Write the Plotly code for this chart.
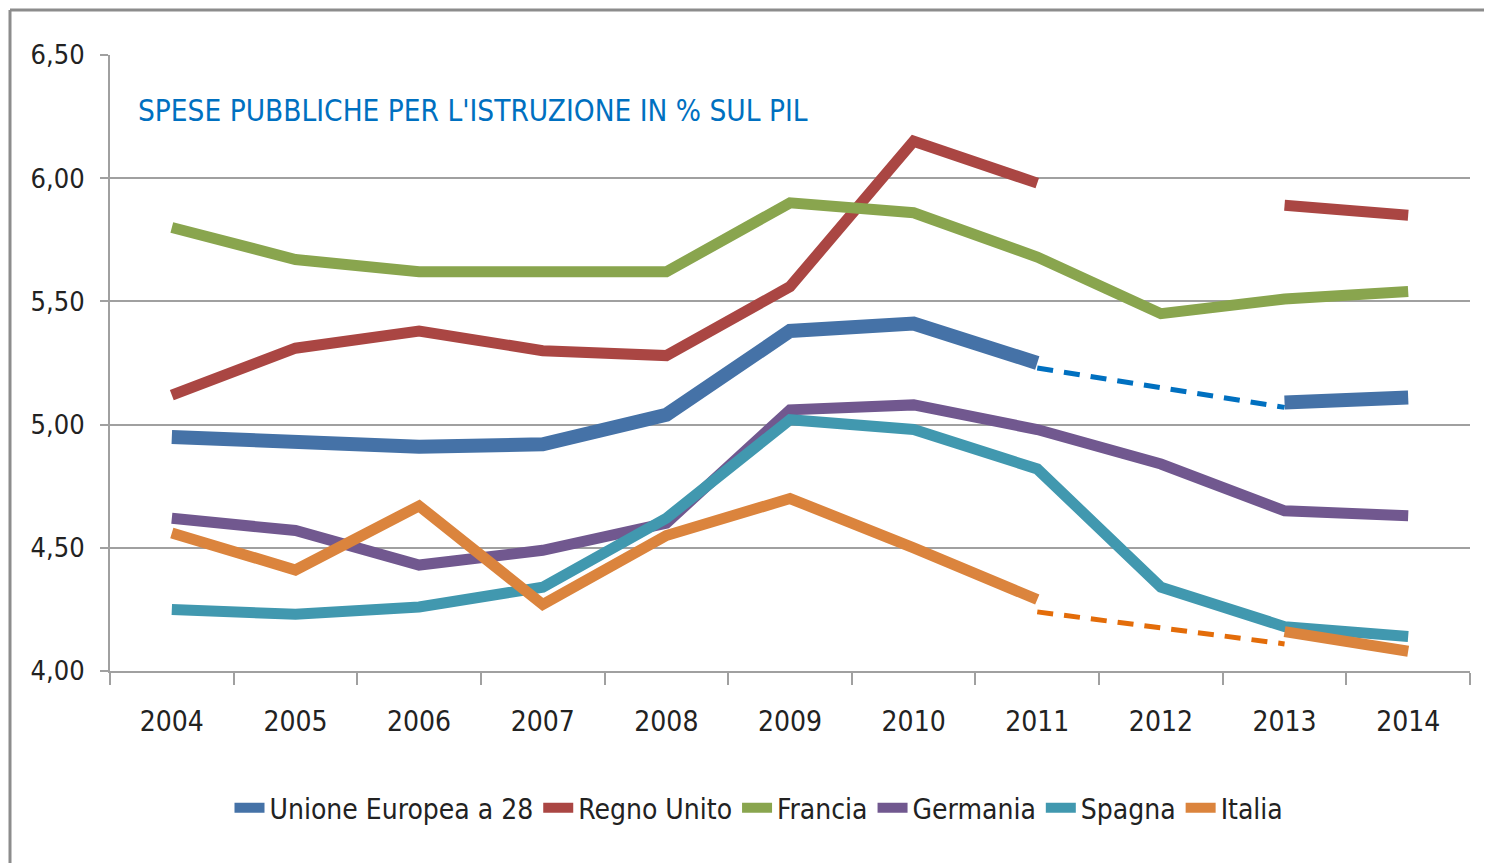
import plotly.graph_objects as go

years = [2004, 2005, 2006, 2007, 2008, 2009, 2010, 2011, 2012, 2013, 2014]
year_labels = ["2004", "2005", "2006", "2007", "2008", "2009", "2010", "2011", "2012", "2013", "2014"]

ue28 = [4.95, 4.93, 4.91, 4.92, 5.04, 5.38, 5.41, 5.25, None, 5.09, 5.11]
regno_unito = [5.12, 5.31, 5.38, 5.30, 5.28, 5.56, 6.15, 5.98, None, 5.89, 5.85]
francia = [5.80, 5.67, 5.62, 5.62, 5.62, 5.90, 5.86, 5.68, 5.45, 5.51, 5.54]
germania = [4.62, 4.57, 4.43, 4.49, 4.60, 5.06, 5.08, 4.98, 4.84, 4.65, 4.63]
spagna = [4.25, 4.23, 4.26, 4.34, 4.62, 5.02, 4.98, 4.82, 4.34, 4.18, 4.14]
italia = [4.56, 4.41, 4.67, 4.27, 4.55, 4.70, 4.50, 4.29, None, 4.16, 4.08]

# dashed bridges over the missing 2012 value
ue28_stima = [None, None, None, None, None, None, None, 5.23, None, 5.07, None]
italia_stima = [None, None, None, None, None, None, None, 4.24, None, 4.11, None]

series = [
    ("Unione Europea a 28", ue28, "#4572A7", 14),
    ("Regno Unito", regno_unito, "#AA4643", 11),
    ("Francia", francia, "#89A54E", 11),
    ("Germania", germania, "#71588F", 11),
    ("Spagna", spagna, "#4198AF", 11),
    ("Italia", italia, "#DB843D", 11),
]

FONT = "Liberation Sans Narrow, DejaVu Sans Condensed, Arial Narrow, sans-serif"

fig = go.Figure()
for name, vals, color, w in series:
    fig.add_trace(go.Scatter(
        x=years, y=vals, name=name, mode="lines",
        line=dict(color=color, width=w), connectgaps=False,
    ))

fig.add_trace(go.Scatter(x=years, y=ue28_stima, mode="lines", showlegend=False,
                         connectgaps=True, hoverinfo="skip",
                         line=dict(color="#0070C0", width=5, dash="16px,11px")))
fig.add_trace(go.Scatter(x=years, y=italia_stima, mode="lines", showlegend=False,
                         connectgaps=True, hoverinfo="skip",
                         line=dict(color="#E36C09", width=5, dash="16px,11px")))

# page body adds an 8px offset; compensate so the screenshot lines up
OFF = 8
W, H = 1492, 863
L, R, T, B = 110 - OFF, 22 + OFF, 55 - OFF, 192 + OFF
pw, ph = W - L - R, H - T - B

def px(xp):  # screenshot x -> paper
    return (xp - OFF - L) / pw

def py(yp):  # screenshot y -> paper
    return (H - B - (yp - OFF)) / ph

fig.update_layout(
    width=W, height=H,
    margin=dict(l=L, r=R, t=T, b=B),
    paper_bgcolor="white", plot_bgcolor="white",
    separators=",.",
    font=dict(family=FONT, color="#222222", size=28),
    showlegend=True,
    legend=dict(orientation="h", x=px(759), xanchor="center", y=py(808), yanchor="middle",
                font=dict(family=FONT, size=28, color="#222222"),
                itemwidth=30, tracegroupgap=0, bgcolor="rgba(0,0,0,0)"),
    annotations=[dict(
        text="SPESE PUBBLICHE PER L'ISTRUZIONE IN % SUL PIL",
        xref="paper", yref="paper", x=px(136), y=py(111), xanchor="left", yanchor="middle",
        showarrow=False, font=dict(family=FONT, size=29.5, color="#0070C0"),
    )],
    shapes=[
        dict(type="line", xref="paper", yref="paper", x0=px(10), x1=px(1500), y0=py(10), y1=py(10),
             line=dict(color="#8C8C8C", width=3)),
        dict(type="line", xref="paper", yref="paper", x0=px(10), x1=px(10), y0=py(10), y1=py(880),
             line=dict(color="#8C8C8C", width=3)),
    ],
)

fig.update_xaxes(
    range=[2003.5, 2014.5], tickmode="array", tickvals=years, ticktext=year_labels,
    ticks="", showgrid=False, zeroline=False,
    showline=True, linecolor="#A0A0A0", linewidth=2,
    tickfont=dict(family=FONT, size=28, color="#222222"),
    ticklabelstandoff=24,
    minor=dict(tickmode="array", tickvals=[y - 0.5 for y in years] + [2014.5],
               ticks="outside", ticklen=12, tickcolor="#A0A0A0", tickwidth=2, showgrid=False),
)

fig.update_yaxes(
    range=[4.0, 6.5], tickmode="array", tickvals=[4.0, 4.5, 5.0, 5.5, 6.0, 6.5],
    tickformat=".2f", ticks="outside", ticklen=8, tickcolor="#A0A0A0", tickwidth=2,
    showgrid=True, gridcolor="#A0A0A0", gridwidth=2, zeroline=False,
    showline=True, linecolor="#A0A0A0", linewidth=2,
    tickfont=dict(family=FONT, size=27, color="#222222"),
    ticklabelstandoff=10,
)

fig.write_html("out.html")
